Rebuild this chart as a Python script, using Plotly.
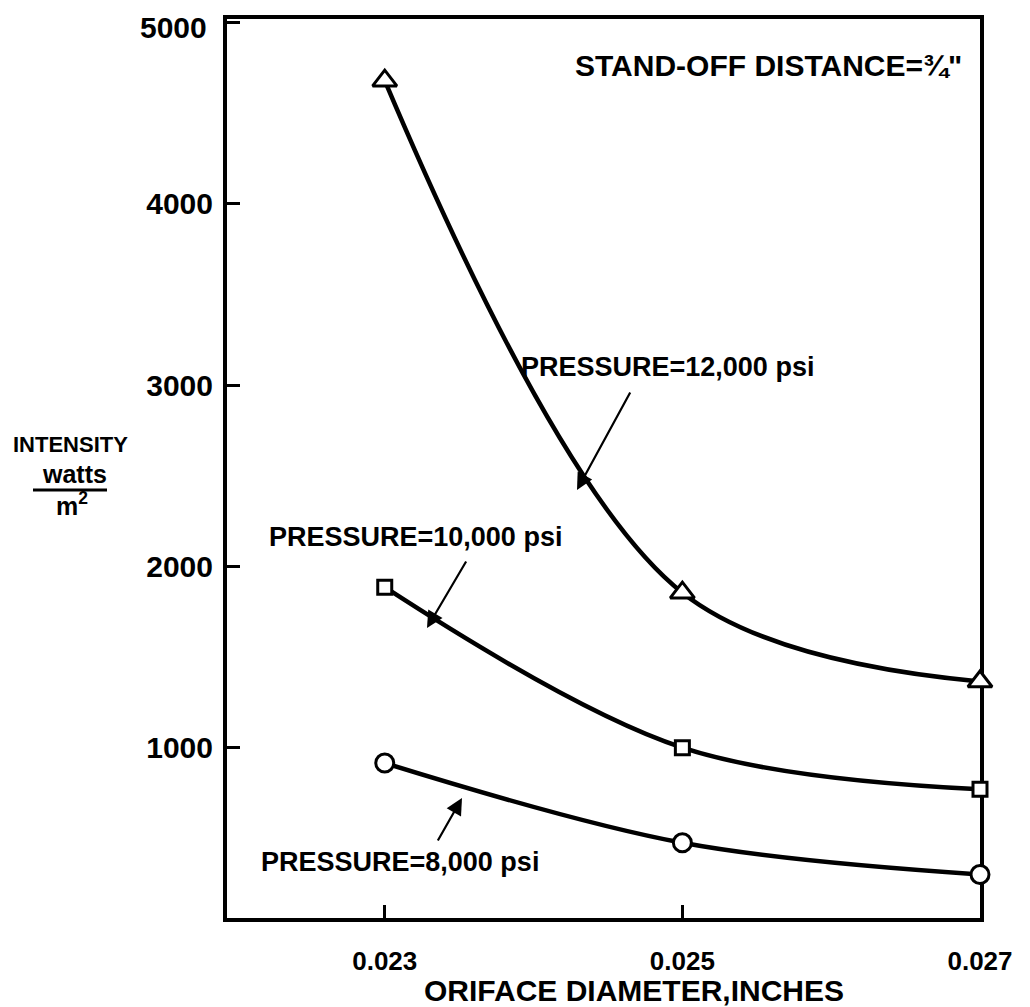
import plotly.graph_objects as go

# ---- data ----
diameter = [0.023, 0.025, 0.027]
p12000 = [4680, 1855, 1365]
p10000 = [1885, 1000, 770]
p8000 = [915, 475, 300]
x_ticks = [0.023, 0.025, 0.027]
x_tick_text = ["0.023", "0.025", "0.027"]
y_ticks = [1000, 2000, 3000, 4000, 5000]
y_tick_text = ["1000", "2000", "3000", "4000", "5000"]

W, H = 1030, 1007
L, R, T, B = 227, 980, 19, 918   # target plot-area edges in window pixels
OFF = 8                           # default page body margin
FONT = "Liberation Sans, Arial, sans-serif"


def px(xp):
    return (xp - L) / (R - L)


def py(yp):
    return (B - yp) / (B - T)


fig = go.Figure()

series = [
    (p12000, "triangle-up", 21),
    (p10000, "square", 14),
    (p8000, "circle", 18),
]
for vals, sym, size in series:
    fig.add_trace(go.Scatter(
        x=diameter, y=vals, mode="lines+markers",
        line=dict(color="black", width=4.5, shape="spline", smoothing=1.0),
        marker=dict(symbol=sym, size=size, color="white",
                    line=dict(color="black", width=3)),
        cliponaxis=False, showlegend=False,
    ))

axis_common = dict(
    showline=True, linecolor="black", linewidth=4, mirror=True,
    showgrid=False, zeroline=False, ticks="inside", ticklen=13,
    tickwidth=3, tickcolor="black", layer="below traces", automargin=False,
    ticklabeloverflow="allow",
)

# the top tick label is drawn as an annotation (nudged down, as in the source)
y_axis_text = [t if v != max(y_ticks) else "" for v, t in zip(y_ticks, y_tick_text)]

fig.update_xaxes(range=[0.02194, 0.027], tickvals=x_ticks,
                 ticktext=x_tick_text, ticklabelstandoff=17,
                 tickfont=dict(family=FONT, size=26, color="black",
                               weight="bold"), **axis_common)
fig.update_yaxes(range=[60, 5020], tickvals=y_ticks,
                 ticktext=y_axis_text, ticklabelstandoff=4,
                 tickfont=dict(family=FONT, size=30, color="black",
                               weight="bold"), **axis_common)

ann = []


def text(t, xc, yc, size, **kw):
    ann.append(dict(text=t, x=px(xc), y=py(yc), xref="paper", yref="paper",
                    showarrow=False, xanchor="center", yanchor="middle",
                    font=dict(family=FONT, size=size, color="black",
                              weight="bold"), **kw))


def arrow(tail, tip):
    ann.append(dict(text="", x=px(tip[0]), y=py(tip[1]), xref="paper",
                    yref="paper", showarrow=True, arrowhead=2, arrowsize=1.5,
                    arrowwidth=2.2, arrowcolor="black",
                    ax=tail[0] - tip[0], ay=tail[1] - tip[1]))


ann.append(dict(text=y_tick_text[-1], x=px(209), y=y_ticks[-1], xref="paper",
                yref="y", yshift=-5, showarrow=False, xanchor="right",
                yanchor="middle",
                font=dict(family=FONT, size=30, color="black", weight="bold")))

text("STAND-OFF DISTANCE=¾\"", 768, 65, 30)
text("PRESSURE=12,000 psi", 667, 367, 27)
text("PRESSURE=10,000 psi", 415, 537, 27)
text("PRESSURE=8,000 psi", 400, 862, 27)
arrow((631, 391), (577, 490))
arrow((467, 560), (427, 628))
arrow((437, 842), (462, 798))

text("ORIFACE DIAMETER,INCHES", 634, 990, 30)
text("INTENSITY", 70, 444, 22)
text("watts", 74, 474, 25)
text("m<sup>2</sup>", 72, 504, 25)

fig.update_layout(
    width=W, height=H,
    margin=dict(l=L - OFF, r=W - (R - OFF), t=T - OFF, b=H - (B - OFF)),
    paper_bgcolor="white", plot_bgcolor="white",
    annotations=ann,
    shapes=[dict(type="line", xref="paper", yref="paper",
                 x0=px(33), x1=px(107), y0=py(490), y1=py(490),
                 line=dict(color="black", width=3))],
)

fig.write_html("out.html")
